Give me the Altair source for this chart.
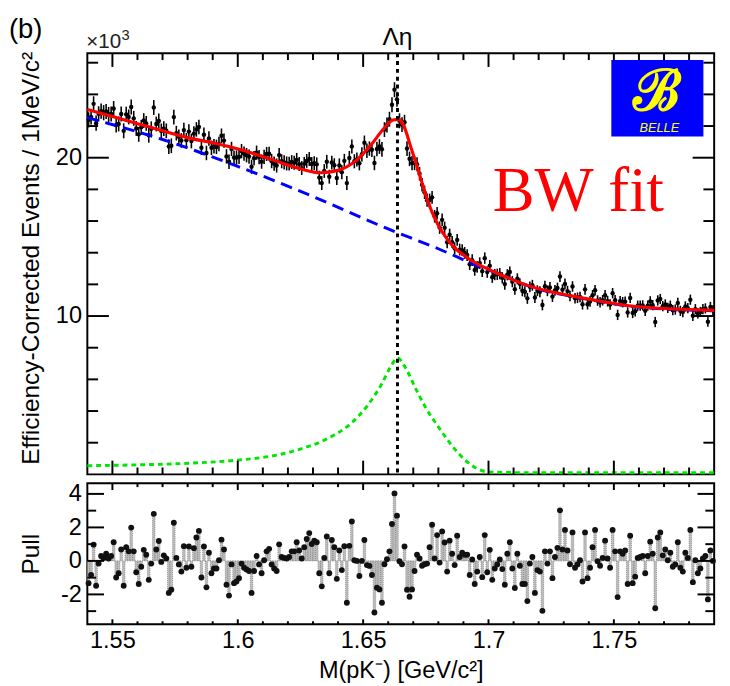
import numpy as np
import pandas as pd
import altair as alt

# ---------------- layout constants ----------------
W, H_TOP, H_PULL = 640, 430, 144
X_DOMAIN = [1.54, 1.79]
Y_DOMAIN = [0, 26.6]
PULL_DOMAIN = [-3.78, 4.64]
FONT = "Liberation Sans"

# ---------------- data ----------------
# pull per 1 MeV bin (bins from 1.540 to 1.790 GeV)
pull_seg1 = [-1.33, -0.84, 0.97, -1.48, -0.16, 0.29, 0.18, 0.43, 0.14, 0.29,
             1.11, -0.99, -0.74, 0.68, -1.48, 0.82, 0.57, 1.99, 0.57, -0.68,
             -1.38, -0.35, 0.66, 0.37, -1.13, -0.16, 2.81, 0.68, 1.19, -0.06,
             0.33, 0.14, -1.91, -1.72, 2.28, 0.18, -0.21, -0.64, 0.88, -0.41,
             0.86, -0.35, 0.76, 1.40, 1.79, -0.99, 0.86, -1.58, 0.49, -0.74]
pull_seg2 = [-0.45, -0.45, 0.04, 1.27, 0.68, -1.42, -2.07, -0.21, -1.33,
             -1.23, -1.03, -0.16, -0.41, -0.51, -0.60, -1.91, -0.60, 0.29, -0.21,
             -0.74, 0.04, 0.57, 0.72, -0.21, -0.45, -0.60, 0.99, 0.23, 0.18,
             0.14, 0.23, 0.57, 0.57, 1.11, 0.62, 0.14, 0.82, 1.31, 1.66,
             1.01, 1.21, 1.11, -0.74, -1.52, 0.18, 1.46, -0.74, 1.25, 0.82]
pull_seg3 = [-1.07, 0.62, -0.55, 0.88, -2.50, 0.90, 2.35, 0.04, 0.00, -0.90,
             0.00, 1.25, -0.25, -0.30, -0.84, -3.08, -1.60, -1.70, -2.50, -0.20,
             0.10, 0.57, 2.20, 4.03, 2.70, -0.02, -0.20, 0.86, -1.72, -2.14,
             -1.70, -0.60, 0.37, 0.14, -0.29, -0.20, -0.16, 0.82, 2.16, 0.14,
             1.54, -0.10, 1.76, 1.10, -0.64, 1.21, 0.43, -0.25, 1.50, 0.23]
pull_seg4 = [0.49, 0.37, 0.37, -0.84, 0.08, -1.38, -0.64, 0.23, -0.97, 1.54,
             -0.68, 0.66, -1.13, -0.45, -0.21, 0.08, -0.49, -1.42, 0.43, 1.11,
             -0.45, -1.62, 0.43, -0.29, -1.38, -1.38, -2.40, -0.16, 0.23, -1.91,
             -0.55, -0.64, -2.98, 0.57, -0.16, 0.57, -1.03, 0.23, 0.78, 3.02,
             0.68, 1.85, 0.62, -0.20, 1.70, -0.41, -0.21, 0.04, -1.23, 1.70]
pull_seg5 = [-1.03, -0.41, 0.82, 1.85, -0.02, -0.29, 0.18, 1.21, 0.14, -0.41,
             1.85, 0.57, -2.16, 0.57, 0.43, 0.62, -1.38, 1.50, -1.33, -0.94,
             0.18, 0.23, 0.29, -0.74, 0.29, 1.15, 0.43, -2.83, 1.40, 1.70,
             0.33, 0.68, 0.04, 0.49, -0.35, -0.21, 1.11, -0.41, -0.64, 0.49,
             0.18, 1.85, -1.27, 0.04, -0.74, -0.45, 0.14, 0.29, -2.30, 0.62,
             0.00]

# total fit (red), background (blue dashed), signal (green dashed), x10^3 events
red_x = [1.540, 1.550, 1.560, 1.570, 1.582, 1.590, 1.602, 1.615, 1.625, 1.633,
         1.640, 1.647, 1.6536, 1.658, 1.662, 1.664, 1.6659, 1.6692, 1.6725,
         1.6757, 1.6796, 1.6848, 1.6926, 1.7029, 1.7159, 1.739, 1.7587, 1.790]
red_y = [23.05, 22.60, 22.15, 21.70, 21.19, 20.95, 20.47, 19.80, 19.30, 19.05,
         19.20, 19.80, 20.90, 21.80, 22.38, 22.42, 22.12, 20.58, 18.93,
         17.28, 15.84, 14.60, 13.57, 12.75, 11.92, 11.10, 10.60, 10.36]
blue_x = [1.540, 1.570, 1.600, 1.630, 1.660, 1.680, 1.696, 1.705, 1.7159,
          1.739, 1.7587, 1.790]
blue_y = [22.53, 21.15, 19.45, 17.55, 15.50, 14.25, 13.15, 12.60, 11.90,
          11.08, 10.58, 10.33]
green_x = [1.540, 1.560, 1.580, 1.600, 1.615, 1.625, 1.635, 1.645, 1.652,
           1.657, 1.661, 1.6637, 1.667, 1.671, 1.675, 1.680, 1.685, 1.690,
           1.695, 1.700, 1.720, 1.790]
green_y = [0.55, 0.60, 0.70, 0.90, 1.20, 1.60, 2.20, 3.20, 4.40,
           5.60, 6.80, 7.35, 6.70, 5.40, 4.20, 3.00, 1.90, 1.00,
           0.40, 0.15, 0.10, 0.10]

threshold = [1.6637]        # Lambda eta threshold (vertical dotted line)

# axis ticks
x_major = [1.55, 1.60, 1.65, 1.70, 1.75]
x_minor = [1.56, 1.57, 1.58, 1.59, 1.61, 1.62, 1.63, 1.64, 1.66, 1.67, 1.68,
           1.69, 1.71, 1.72, 1.73, 1.74, 1.76, 1.77, 1.78]
y_major = [10, 20]
y_minor = [2, 4, 6, 8, 12, 14, 16, 18, 22, 24, 26]
p_major = [-2, 0, 2, 4]
p_minor = [-3, -1, 1, 3]

# ---------------- derived table ----------------
pulls = pull_seg1 + pull_seg2 + pull_seg3 + pull_seg4 + pull_seg5
bw = 0.001
lo = np.round(1.54 + bw * np.arange(len(pulls)), 4)
centers = lo + bw / 2
fit_at = np.interp(centers, red_x, red_y)
err = 0.1 * np.sqrt(fit_at)
yv = fit_at + np.array(pulls) * err
df = pd.DataFrame({"x": centers, "lo": lo, "hi": lo + bw, "y": yv,
                   "ylo": yv - err, "yhi": yv + err, "pull": pulls,
                   "zero": 0.0})

xsc = alt.Scale(domain=X_DOMAIN, nice=False, zero=False)
ysc = alt.Scale(domain=Y_DOMAIN, nice=False, zero=False)
psc = alt.Scale(domain=PULL_DOMAIN, nice=False, zero=False)

# ---------------- axes (same object on every layer of a panel) ----------------
yaxis_top = alt.Axis(values=y_major, ticks=False, domain=False, grid=False,
                     labelFontSize=24, labelFont=FONT, labelColor="black",
                     labelPadding=6,
                     title="Efficiency-Corrected Events / 1MeV/c²",
                     titleFontSize=25, titleFont=FONT, titleFontWeight="normal",
                     titleColor="black", titleAngle=-90, titleAlign="right",
                     titleBaseline="alphabetic", titleX=-50, titleY=-2)
xaxis = alt.Axis(values=x_major, format="~g", ticks=False, domain=False,
                 grid=False, labelFontSize=24, labelFont=FONT,
                 labelColor="black", labelPadding=5,
                 title="M(pK⁻) [GeV/c²]", titleFontSize=24, titleFont=FONT,
                 titleFontWeight="normal", titleColor="black",
                 titleY=54, titleBaseline="alphabetic")
paxis = alt.Axis(values=p_major, labelExpr="'' + datum.value", ticks=False,
                 domain=False, grid=False, labelFontSize=24, labelFont=FONT,
                 labelColor="black", labelPadding=6, title="Pull",
                 titleFontSize=25, titleFont=FONT, titleFontWeight="normal",
                 titleColor="black", titleAngle=-90, titleAlign="center",
                 titleBaseline="alphabetic", titleX=-50, titleY=H_PULL / 2)


def XT(field):
    return alt.X(field, scale=xsc, axis=None)


def YT(field):
    return alt.Y(field, scale=ysc, axis=yaxis_top)


def XP(field):
    return alt.X(field, scale=xsc, axis=xaxis)


def YP(field):
    return alt.Y(field, scale=psc, axis=paxis)


def one(**kw):
    return alt.Chart(pd.DataFrame({k: [v] for k, v in kw.items()}))


def text(t, x, y, size, color="black", font=FONT, align="left", style="normal",
         weight="normal", baseline="alphabetic"):
    return one(t=t).mark_text(text=t, fontSize=size, font=font, color=color,
                              align=align, baseline=baseline,
                              fontStyle=style, fontWeight=weight).encode(
        x=alt.value(x), y=alt.value(y))


# ---------------- top panel ----------------
base = alt.Chart(df)
errbars = base.mark_rule(color="black", strokeWidth=1.6).encode(
    x=XT("x:Q"), y=YT("ylo:Q"), y2="yhi:Q")
points = base.mark_circle(color="black", size=20, opacity=1).encode(
    x=XT("x:Q"), y=YT("y:Q"))

blue = alt.Chart(pd.DataFrame({"x": blue_x, "y": blue_y})).mark_line(
    color="#0000ff", strokeWidth=3, strokeDash=[12, 7], interpolate="monotone"
).encode(x=XT("x:Q"), y=YT("y:Q"))
green = alt.Chart(pd.DataFrame({"x": green_x, "y": green_y})).mark_line(
    color="#00e600", strokeWidth=3, strokeDash=[5, 4], interpolate="monotone"
).encode(x=XT("x:Q"), y=YT("y:Q"))
red = alt.Chart(pd.DataFrame({"x": red_x, "y": red_y})).mark_line(
    color="#ff0000", strokeWidth=3.2, interpolate="monotone"
).encode(x=XT("x:Q"), y=YT("y:Q"))
vline = alt.Chart(pd.DataFrame({"x": threshold})).mark_rule(
    color="black", strokeWidth=3, strokeDash=[4, 4]).encode(
    x=XT("x:Q"), y=alt.value(0), y2=alt.value(H_TOP))
vlabel = alt.Chart(pd.DataFrame({"x": threshold})).mark_text(
    text="Λη", fontSize=25, font=FONT, color="black", align="center",
    baseline="alphabetic").encode(x=XT("x:Q"), y=alt.value(-8))

tick_style = dict(color="black", strokeWidth=2)


def yticks(values, Yenc, length, width):
    src = alt.Chart(pd.DataFrame({"v": values}))
    left = src.mark_rule(**tick_style).encode(
        y=Yenc("v:Q"), x=alt.value(0), x2=alt.value(length))
    right = src.mark_rule(**tick_style).encode(
        y=Yenc("v:Q"), x=alt.value(width - length), x2=alt.value(width))
    return [left, right]


def xticks(values, Xenc, top_len, bot_len, height):
    src = alt.Chart(pd.DataFrame({"v": values}))
    t = src.mark_rule(**tick_style).encode(
        x=Xenc("v:Q"), y=alt.value(0), y2=alt.value(top_len))
    b = src.mark_rule(**tick_style).encode(
        x=Xenc("v:Q"), y=alt.value(height - bot_len), y2=alt.value(height))
    return [t, b]


top_ticks = (yticks(y_major, YT, 22, W) + yticks(y_minor, YT, 11, W) +
             xticks(x_major, XT, 14, 14, H_TOP) +
             xticks(x_minor, XT, 7, 7, H_TOP))

# logo and annotations
logo_bg = one(a=1).mark_rect(color="#0000ff").encode(
    x=alt.value(535), x2=alt.value(629), y=alt.value(7), y2=alt.value(85))
logo_b = text("ℬ", 582, 58, 58, color="#ffff00", font="DejaVu Serif",
              align="center", weight="bold")
logo_t = text("BELLE", 584, 80, 13, color="#ffff00", align="center",
              style="italic")
bw_fit = text("BW fit", 414, 161, 64, color="#ff0000", font="Liberation Serif")
panel_b = text("(b)", -80, -38, 28, baseline="top")
x10 = text("×10", -1, -5, 21, color="#222222")
x10_exp = text("3", 35, -14, 15, color="#222222")

top = alt.layer(errbars, points, blue, green, red, vline, *top_ticks,
                logo_bg, logo_b, logo_t, bw_fit, panel_b, x10, x10_exp, vlabel
                ).properties(width=W, height=H_TOP)

# ---------------- pull panel ----------------
bars = alt.Chart(df).mark_bar(color="#bdbdbd", stroke="#666666",
                              strokeWidth=0.6, strokeDash=[1, 1]).encode(
    x=XP("lo:Q"), x2="hi:Q", y=YP("pull:Q"), y2="zero:Q")
pdots = alt.Chart(df).mark_circle(color="#111111", size=36, opacity=1).encode(
    x=XP("x:Q"), y=YP("pull:Q"))

pull_ticks = (yticks(p_major, YP, 17, W) + yticks(p_minor, YP, 9, W) +
              xticks(x_major, XP, 7, 5, H_PULL) +
              xticks(x_minor, XP, 4, 3, H_PULL))

bottom = alt.layer(bars, pdots, *pull_ticks).properties(width=W,
                                                       height=H_PULL)

chart = alt.vconcat(top, bottom, spacing=0).properties(
    padding={"left": 0, "top": 0, "right": 0, "bottom": 0},
    background="white"
).configure_view(stroke="black", strokeWidth=2).configure_concat(spacing=0)

chart.save("out.html", embed_options={"renderer": "svg", "actions": False})
